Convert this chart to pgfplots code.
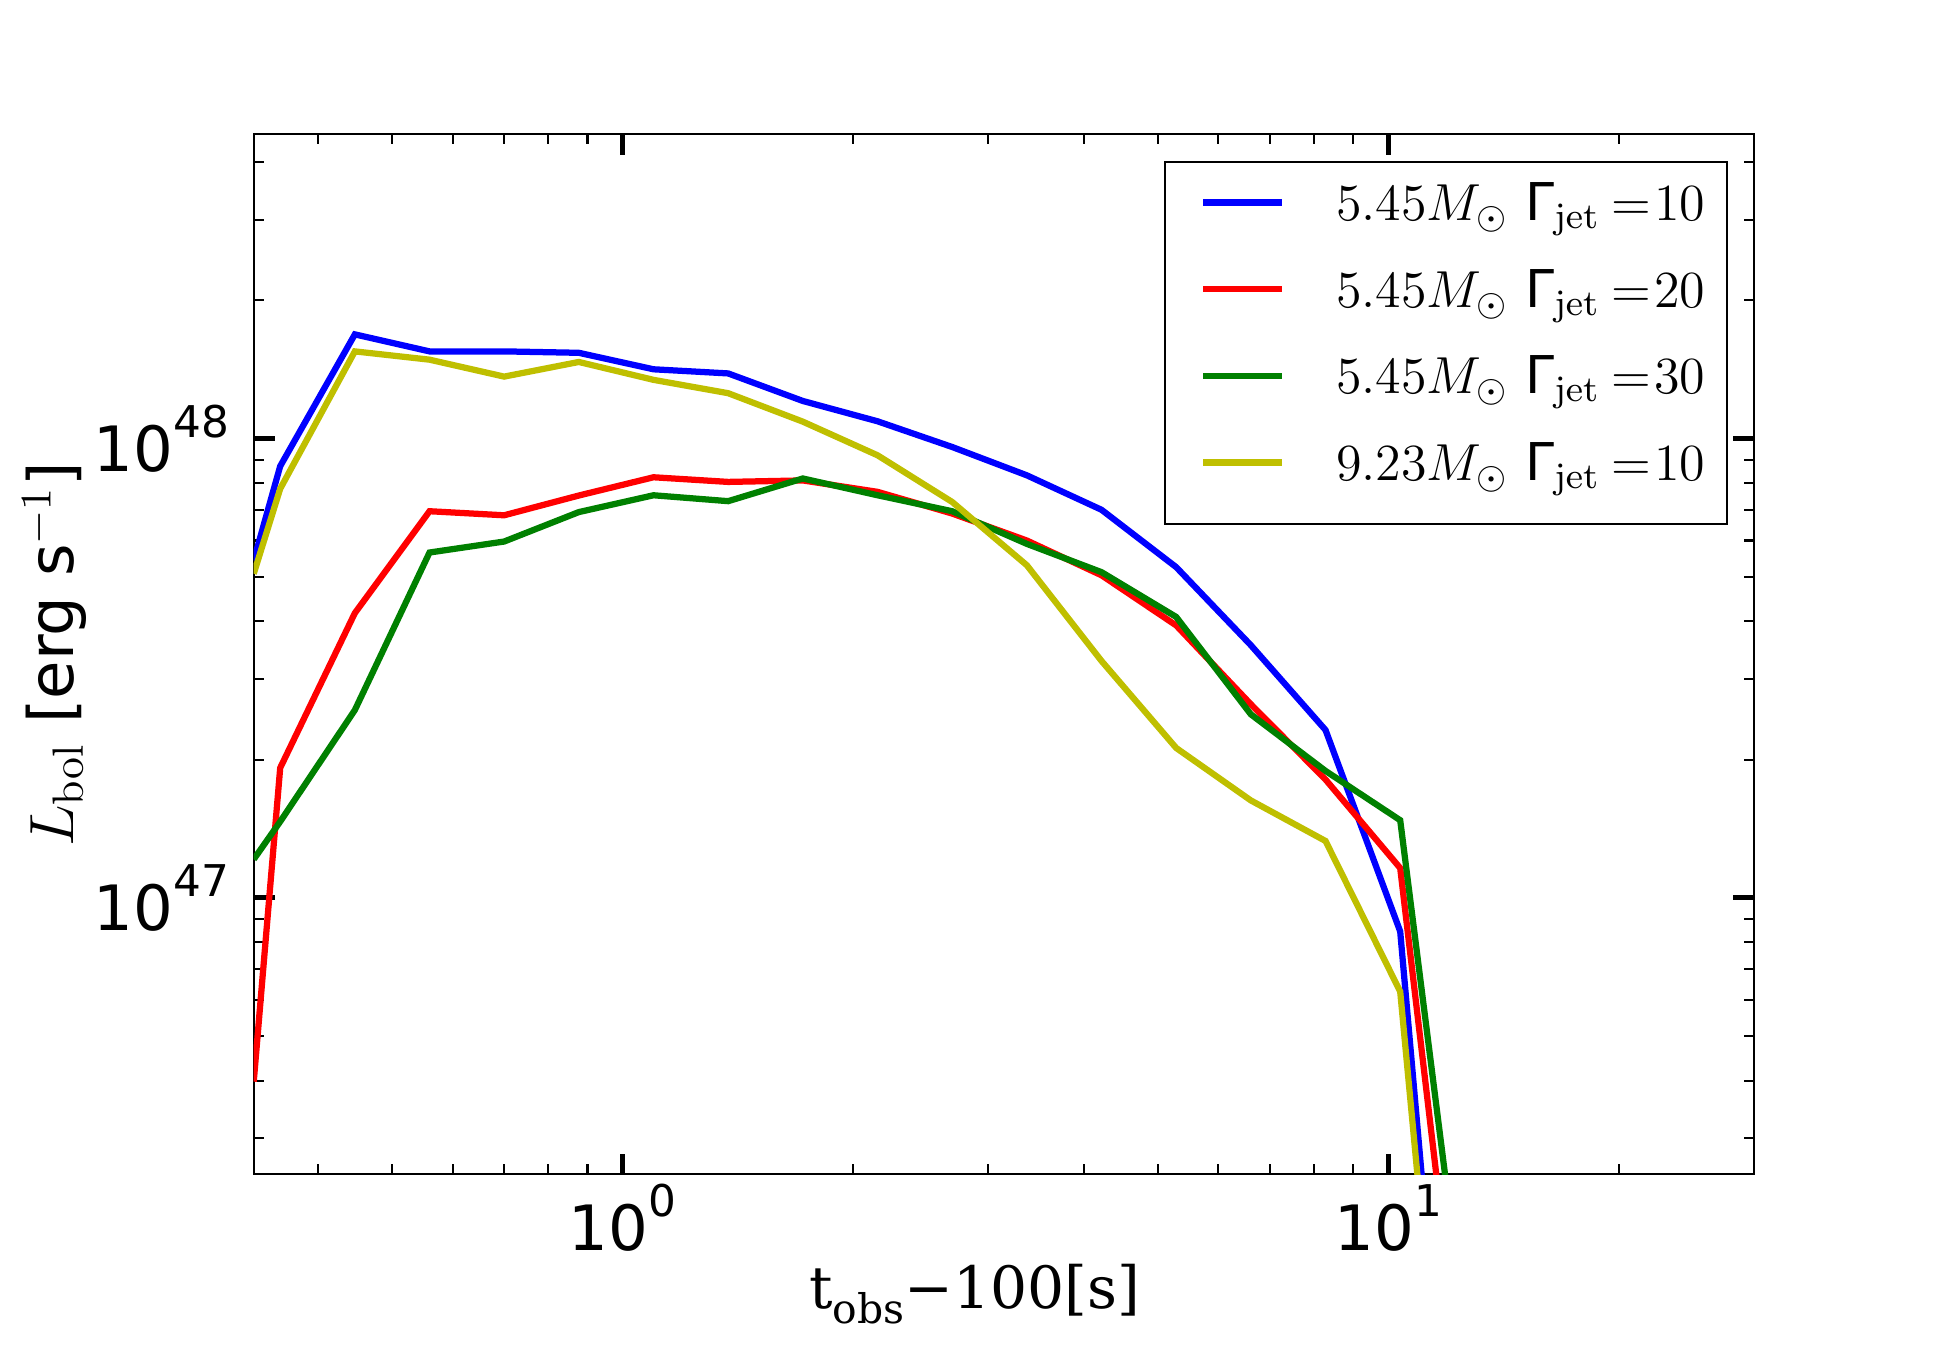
\RequirePackage{fix-cm}
\documentclass[border=0pt]{standalone}
\usepackage[no-math]{fontspec}
\setmainfont{DejaVu Sans}
\newfontfamily\dvserif{DejaVu Serif}
\usepackage{pgfplots}
\pgfplotsset{compat=1.18}

% colours of the four runs
\definecolor{cB}{RGB}{0,0,255}
\definecolor{cR}{RGB}{255,0,0}
\definecolor{cG}{RGB}{0,128,0}
\definecolor{cY}{RGB}{191,191,0}

% power-of-ten tick label in the sans text font
\newcommand{\tl}[1]{10\raisebox{8.2pt}{\fontsize{10.5}{12}\selectfont #1}}
% legend label: mass and jet Lorentz factor
\newcommand{\run}[2]{$#1M_{\odot}$ $\mbox{Γ}_{\mathrm{jet}}\mkern4mu{=}\mkern1mu#2$}

\begin{document}
\begin{tikzpicture}
\path[use as bounding box] (-60.9pt,-42.4pt) rectangle (407.1pt,281.9pt);
\begin{axis}[
  at={(0pt,0pt)}, anchor=south west,
  scale only axis, width=360pt, height=249.6pt,
  xmode=log, ymode=log,
  xmin=0.33, xmax=30, ymin=2.5e46, ymax=4.6e48,
  xtick={1,10}, xticklabels={\tl{0},\tl{1}},
  ytick={1e47,1e48}, yticklabels={\tl{47},\tl{48}},
  minor xtick={0.4,0.5,0.6,0.7,0.8,0.9,2,3,4,5,6,7,8,9,20},
  minor ytick={3e46,4e46,5e46,6e46,7e46,8e46,9e46,2e47,3e47,4e47,5e47,6e47,7e47,8e47,9e47,2e48,3e48,4e48},
  tick align=inside, tick pos=both,
  xticklabel pos=bottom, yticklabel pos=left,
  major tick length=5pt, minor tick length=2.4pt,
  every major tick/.append style={line width=1.15pt, black},
  every minor tick/.append style={line width=0.5pt, black},
  axis line style={line width=0.55pt, black},
  ticklabel style={font=\fontsize{15}{18}\selectfont, inner sep=0pt},
  xticklabel style={anchor=north, yshift=-2.2pt},
  yticklabel style={anchor=east, xshift=-5.7pt},
  xlabel={{\dvserif t\raisebox{-3.6pt}{\fontsize{9.8}{11}\selectfont obs}−100[s]}},
  xlabel style={at={(axis description cs:0.4805,0)}, anchor=base, yshift=-32.2pt,
    font=\fontsize{14}{17}\selectfont, inner sep=0pt},
  ylabel={$L_{\mathrm{bol}}$ [erg s$^{-1}$]},
  ylabel style={at={(axis description cs:-0.1547,0.5)}, anchor=north,
    font=\fontsize{15}{18}\selectfont, inner sep=0pt},
  legend cell align=left,
  legend image code/.code={\path (0pt,0pt); \draw[#1] (3.2pt,2.5pt) -- (22.2pt,2.5pt);},
  legend style={
    at={(axis description cs:0.983,0.9743)}, anchor=north east,
    draw=black, line width=0.55pt, fill=white,
    font=\fontsize{12.5}{15}\selectfont,
    inner xsep=5.2pt, inner ysep=5.7pt, row sep=7.8pt,
    nodes={inner sep=0pt, text height=8.3pt, text depth=4.7pt},
    /tikz/every odd column/.append style={column sep=12.2pt},
  },
  every axis plot/.append style={line width=1.5pt},
]
% 5.45 Msun, Gamma_jet = 10
\addplot[cB] coordinates {
  (0.33,5.43e47) (0.3573,8.71e47) (0.4472,1.687e48) (0.5598,1.549e48)
  (0.7006,1.549e48) (0.8770,1.538e48) (1.0977,1.416e48) (1.3740,1.387e48)
  (1.7199,1.208e48) (2.1528,1.091e48) (2.6946,9.59e47) (3.3729,8.32e47)
  (4.2219,7.00e47) (5.2845,5.25e47) (6.6146,3.55e47) (8.2794,2.32e47)
  (10.363,8.45e46) (12.972,1.21e45)};
\addlegendentry{\run{5.45}{10}}
% 5.45 Msun, Gamma_jet = 20
\addplot[cR] coordinates {
  (0.33,3.98e46) (0.3573,1.919e47) (0.4472,4.17e47) (0.5598,6.95e47)
  (0.7006,6.81e47) (0.8770,7.52e47) (1.0977,8.24e47) (1.3740,8.05e47)
  (1.7199,8.11e47) (2.1528,7.66e47) (2.6946,6.87e47) (3.3729,6.00e47)
  (4.2219,5.04e47) (5.2845,3.92e47) (6.6146,2.64e47) (8.2794,1.81e47)
  (10.363,1.161e47) (12.972,4.83e45)};
\addlegendentry{\run{5.45}{20}}
% 5.45 Msun, Gamma_jet = 30
\addplot[cG] coordinates {
  (0.33,1.213e47) (0.3573,1.466e47) (0.4472,2.564e47) (0.5598,5.65e47)
  (0.7006,5.97e47) (0.8770,6.92e47) (1.0977,7.53e47) (1.3740,7.31e47)
  (1.7199,8.19e47) (2.1528,7.53e47) (2.6946,6.95e47) (3.3729,5.90e47)
  (4.2219,5.12e47) (5.2845,4.09e47) (6.6146,2.51e47) (8.2794,1.89e47)
  (10.363,1.476e47) (12.972,7.66e45)};
\addlegendentry{\run{5.45}{30}}
% 9.23 Msun, Gamma_jet = 10
\addplot[cY] coordinates {
  (0.33,5.08e47) (0.3573,7.78e47) (0.4472,1.549e48) (0.5598,1.486e48)
  (0.7006,1.365e48) (0.8770,1.469e48) (1.0977,1.343e48) (1.3740,1.256e48)
  (1.7199,1.089e48) (2.1528,9.20e47) (2.6946,7.28e47) (3.3729,5.30e47)
  (4.2219,3.28e47) (5.2845,2.12e47) (6.6146,1.63e47) (8.2794,1.33e47)
  (10.363,6.25e46) (12.972,1.16e45)};
\addlegendentry{\run{9.23}{10}}
\end{axis}
\end{tikzpicture}
\end{document}
